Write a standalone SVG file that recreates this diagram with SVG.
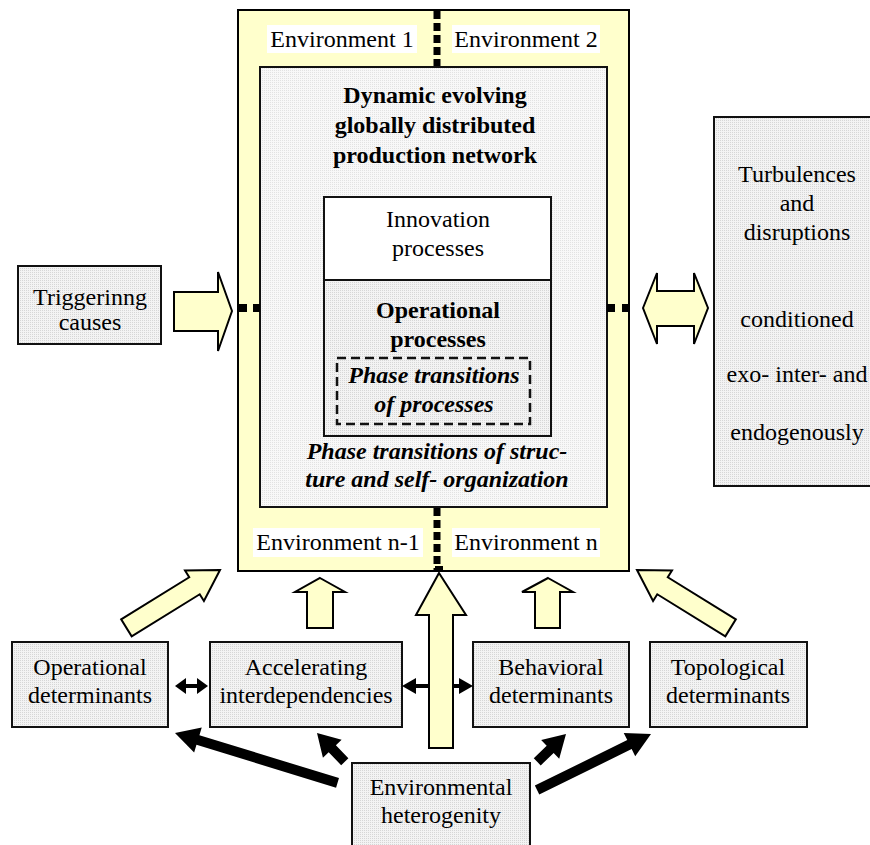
<svg xmlns="http://www.w3.org/2000/svg" width="870" height="845" viewBox="0 0 870 845">
<defs>
<pattern id="dots" width="2" height="2" patternUnits="userSpaceOnUse"><rect width="2" height="2" fill="#f3f3f3"/><rect width="1" height="1" fill="#d6d6d6"/></pattern>
<pattern id="dotsL" width="2" height="2" patternUnits="userSpaceOnUse"><rect width="2" height="2" fill="#f8f8f8"/><rect width="1" height="1" fill="#e2e2e2"/></pattern>
<style>
.box{fill:url(#dots);stroke:#111;stroke-width:2}
.yel{fill:#ffffcc;stroke:#000;stroke-width:2;stroke-linejoin:miter}
.blk{fill:#000;stroke:none}
.t{font-family:"Liberation Serif","Times New Roman",serif;font-size:24px;fill:#000;text-anchor:middle}
.b{font-weight:bold}
.bi{font-weight:bold;font-style:italic}
.dot{stroke:#000;stroke-width:7;fill:none}
</style>
</defs>
<rect width="870" height="845" fill="#fff"/>

<g id="network">
<rect x="238" y="10" width="391" height="561" class="yel"/>
<rect x="260" y="67" width="347" height="440" fill="url(#dotsL)" stroke="#111" stroke-width="2"/>
<g id="env1"><rect x="267" y="25" width="150" height="28" fill="#fff"/><text class="t" x="342" y="47">Environment 1</text></g>
<g id="env2"><rect x="452" y="25" width="148" height="28" fill="#fff"/><text class="t" x="526" y="47">Environment 2</text></g>
<g id="envn1"><rect x="253" y="528" width="170" height="29" fill="#fff"/><text class="t" x="338" y="550">Environment n-1</text></g>
<g id="envn"><rect x="452" y="528" width="148" height="29" fill="#fff"/><text class="t" x="526" y="550">Environment n</text></g>
<text class="t b" x="435" y="103">Dynamic evolving</text>
<text class="t b" x="435" y="133">globally distributed</text>
<text class="t b" x="435" y="163">production network</text>
<text class="t bi" x="437" y="459">Phase transitions of struc-</text>
<text class="t bi" x="437" y="487">ture and self- organization</text>
</g>

<g id="innovation">
<rect x="324" y="197" width="227" height="83" fill="#fff" stroke="#111" stroke-width="2"/>
<text class="t" x="438" y="227">Innovation</text>
<text class="t" x="438" y="256">processes</text>
</g>

<g id="operational-processes">
<rect x="324" y="280" width="227" height="156" class="box"/>
<text class="t b" x="438" y="318">Operational</text>
<text class="t b" x="438" y="347">processes</text>
<g id="phase-processes">
<rect x="337" y="358" width="193" height="66" fill="none" stroke="#111" stroke-width="2.5" stroke-dasharray="9 5"/>
<text class="t bi" x="434" y="383">Phase transitions</text>
<text class="t bi" x="434" y="412">of processes</text>
</g>
</g>

<g id="separators">
<line class="dot" x1="437" y1="11" x2="437" y2="66" stroke-dasharray="8 4"/>
<line class="dot" x1="437" y1="508" x2="437" y2="572" stroke-dasharray="8 4"/>
<rect x="238" y="304" width="9" height="8" fill="#000"/>
<rect x="253" y="304" width="7" height="8" fill="#000"/>
<rect x="607" y="304" width="8" height="8" fill="#000"/>
<rect x="622" y="304" width="7" height="8" fill="#000"/>
</g>

<g id="triggering">
<rect x="18" y="266" width="143" height="78" class="box"/>
<text class="t" x="90" y="305">Triggerinng</text>
<text class="t" x="90" y="330">causes</text>
</g>

<g id="turbulences">
<rect x="714" y="117" width="170" height="369" class="box"/>
<text class="t" x="797" y="182">Turbulences</text>
<text class="t" x="797" y="211">and</text>
<text class="t" x="797" y="240">disruptions</text>
<text class="t" x="797" y="327">conditioned</text>
<text class="t" x="797" y="382">exo- inter- and</text>
<text class="t" x="797" y="440">endogenously</text>
</g>

<g id="op-determinants">
<rect x="12" y="642" width="156" height="85" class="box"/>
<text class="t" x="90" y="675">Operational</text>
<text class="t" x="90" y="703">determinants</text>
</g>
<g id="accelerating">
<rect x="210" y="642" width="192" height="85" class="box"/>
<text class="t" x="306" y="675">Accelerating</text>
<text class="t" x="306" y="703">interdependencies</text>
</g>
<g id="behavioral">
<rect x="473" y="642" width="156" height="85" class="box"/>
<text class="t" x="551" y="675">Behavioral</text>
<text class="t" x="551" y="703">determinants</text>
</g>
<g id="topological">
<rect x="650" y="642" width="157" height="85" class="box"/>
<text class="t" x="728" y="675">Topological</text>
<text class="t" x="728" y="703">determinants</text>
</g>
<g id="heterogenity">
<rect x="352" y="763" width="178" height="90" class="box"/>
<text class="t" x="441" y="795">Environmental</text>
<text class="t" x="441" y="823">heterogenity</text>
</g>

<g id="connectors">
<!-- black horizontal double arrows -->
<polygon class="blk" points="175,686 186,678 186,684 197,684 197,678 208,686 197,694 197,688 186,688 186,694"/>
<polygon class="blk" points="402,686 416,678 416,684 459,684 459,678 473,686 459,694 459,688 416,688 416,694"/>
<!-- yellow arrows -->
<polygon class="yel" points="232,311 218,272 218,292 174,292 174,331 218,331 218,351"/>
<polygon class="yel" points="643,308 657,273 657,291 694,291 694,273 708,308 694,344 694,326 657,326 657,344"/>
<polygon class="yel" points="439,573 466,615 453,615 453,748 429,748 429,615 416,615"/>
<polygon class="yel" points="320,578 345,592 333,592 333,628 307,628 307,592 295,592"/>
<polygon class="yel" points="548,578 573,592 560,592 560,628 535,628 535,592 522,592"/>
<polygon class="yel" transform="translate(220,570) rotate(-31.7)" points="0,0 -30,-18 -30,-10 -110,-10 -110,10 -30,10 -30,18"/>
<polygon class="yel" transform="translate(637,570) rotate(-148.3)" points="0,0 -30,-18 -30,-10 -110,-10 -110,10 -30,10 -30,18"/>
<rect x="435" y="566" width="8" height="6" fill="#000"/>
<!-- black arrows from environmental heterogenity -->
<polygon class="blk" transform="translate(175,733) rotate(-162.95)" points="0,0 -24,-13 -24,-5 -170,-5 -170,5 -24,5 -24,13"/>
<polygon class="blk" transform="translate(317,733) rotate(-134)" points="0,0 -22,-13 -22,-5 -40,-5 -40,5 -22,5 -22,13"/>
<polygon class="blk" transform="translate(566,734) rotate(-44)" points="0,0 -22,-13 -22,-5 -40,-5 -40,5 -22,5 -22,13"/>
<polygon class="blk" transform="translate(651,734) rotate(-26.2)" points="0,0 -24,-13 -24,-5 -127,-5 -127,5 -24,5 -24,13"/>
</g>
</svg>
